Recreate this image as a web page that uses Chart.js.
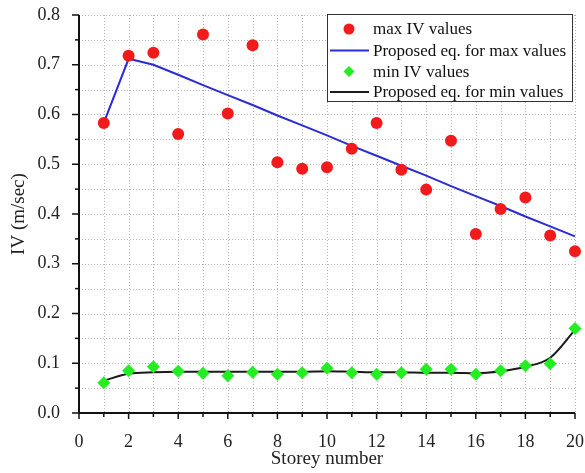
<!DOCTYPE html>
<html>
<head>
<meta charset="utf-8">
<script src="https://cdn.jsdelivr.net/npm/chart.js@4/dist/chart.umd.min.js"></script>
<style>
  html, body { margin: 0; padding: 0; background: #fff; }
  #wrap { width: 585px; height: 473px; position: relative; }
</style>
</head>
<body>
<div id="wrap"><canvas id="c" width="585" height="473"></canvas></div>
<script>
// Storey numbers along the x axis
const storeys = [1, 2, 3, 4, 5, 6, 7, 8, 9, 10, 11, 12, 13, 14, 15, 16, 17, 18, 19, 20];

// Measured maximum IV per storey (m/sec)
const maxIV = [0.583, 0.718, 0.724, 0.561, 0.761, 0.602, 0.739, 0.504, 0.491, 0.494,
               0.531, 0.583, 0.489, 0.449, 0.547, 0.360, 0.410, 0.433, 0.357, 0.325];

// Proposed equation for the maximum values
const maxFit = [0.583, 0.712, 0.700, 0.680, 0.659, 0.639, 0.619, 0.598, 0.578, 0.558,
                0.537, 0.517, 0.497, 0.477, 0.456, 0.436, 0.416, 0.395, 0.375, 0.355];

// Measured minimum IV per storey (m/sec)
const minIV = [0.061, 0.085, 0.093, 0.084, 0.080, 0.075, 0.082, 0.078, 0.081, 0.090,
               0.081, 0.078, 0.081, 0.088, 0.088, 0.078, 0.085, 0.095, 0.099, 0.170];

// Proposed equation for the minimum values
const minFit = [0.065, 0.079, 0.082, 0.083, 0.083, 0.083, 0.083, 0.083, 0.083, 0.084,
                0.083, 0.082, 0.082, 0.081, 0.081, 0.080, 0.084, 0.093, 0.111, 0.167];

const seriesNames = ['max IV values', 'Proposed eq. for max values', 'min IV values', 'Proposed eq. for min values'];
const xTicks = [0, 2, 4, 6, 8, 10, 12, 14, 16, 18, 20];
const yTicks = [0.0, 0.1, 0.2, 0.3, 0.4, 0.5, 0.6, 0.7, 0.8];

const SERIF = '"Liberation Serif", "Times New Roman", serif';
const pts = (ys) => storeys.map((x, i) => ({ x: x, y: ys[i] }));

// Fixed axis box sizes with no label overhang padding
const fixBox = (w, h) => (s) => {
  if (w !== null) s.width = w;
  if (h !== null) s.height = h;
  s.paddingLeft = 0; s.paddingRight = 0; s.paddingTop = 0; s.paddingBottom = 0;
};

// Dotted grid, solid left/bottom axes and tick marks
const axesPlugin = {
  id: 'axesPlugin',
  beforeDatasetsDraw(chart) {
    const { ctx, chartArea: a, scales: { x, y } } = chart;
    ctx.save();
    ctx.strokeStyle = '#b4b4b4';
    ctx.lineWidth = 1;
    ctx.setLineDash([1, 2]);
    for (let v = 1; v <= 20; v++) {
      const px = Math.round(x.getPixelForValue(v)) + 0.5;
      ctx.beginPath(); ctx.moveTo(px, a.top); ctx.lineTo(px, a.bottom); ctx.stroke();
    }
    for (let k = 1; k <= 16; k++) {
      const py = Math.round(y.getPixelForValue(k * 0.05)) + 0.5;
      ctx.beginPath(); ctx.moveTo(a.left, py); ctx.lineTo(a.right, py); ctx.stroke();
    }
    ctx.setLineDash([]);
    ctx.strokeStyle = '#111';
    ctx.lineWidth = 2;
    ctx.beginPath();
    ctx.moveTo(a.left, a.top); ctx.lineTo(a.left, a.bottom); ctx.lineTo(a.right, a.bottom);
    ctx.stroke();
    ctx.lineWidth = 1.5;
    for (let v = 0; v <= 20; v++) {
      const px = x.getPixelForValue(v);
      const len = v % 2 === 0 ? 6 : 4;
      ctx.beginPath(); ctx.moveTo(px, a.bottom); ctx.lineTo(px, a.bottom + len); ctx.stroke();
    }
    for (let k = 0; k <= 16; k++) {
      const py = y.getPixelForValue(k * 0.05);
      const len = k % 2 === 0 ? 7 : 4;
      ctx.beginPath(); ctx.moveTo(a.left, py); ctx.lineTo(a.left - len, py); ctx.stroke();
    }
    ctx.restore();
  },
  afterDraw(chart) {
    // Boxed legend in the upper right corner
    const { ctx } = chart;
    const bx = 327, by = 14, bw = 245, bh = 87;
    ctx.save();
    ctx.fillStyle = '#fff';
    ctx.fillRect(bx, by, bw, bh);
    ctx.strokeStyle = '#333';
    ctx.lineWidth = 1;
    ctx.strokeRect(bx + 0.5, by + 0.5, bw, bh);
    const rows = [29, 50.5, 71.5, 92];
    ctx.font = '17px ' + SERIF;
    ctx.textBaseline = 'middle';
    chart.data.datasets.forEach((ds, i) => {
      const cy = rows[i];
      if (ds.showLine === false) {
        ctx.fillStyle = ds.pointBackgroundColor;
        ctx.beginPath();
        if (ds.pointStyle === 'rectRot') {
          const r = 5.5;
          ctx.moveTo(349, cy - r); ctx.lineTo(349 + r, cy); ctx.lineTo(349, cy + r); ctx.lineTo(349 - r, cy);
          ctx.closePath();
        } else {
          ctx.arc(349, cy, 5.5, 0, Math.PI * 2);
        }
        ctx.fill();
      } else {
        ctx.strokeStyle = ds.borderColor;
        ctx.lineWidth = 2;
        ctx.beginPath(); ctx.moveTo(330, cy); ctx.lineTo(369, cy); ctx.stroke();
      }
      ctx.fillStyle = '#111';
      ctx.fillText(ds.label, 373, cy + 1);
    });
    ctx.restore();
  }
};

new Chart(document.getElementById('c'), {
  type: 'scatter',
  data: {
    datasets: [
      {
        label: seriesNames[0], data: pts(maxIV), showLine: false,
        pointStyle: 'circle', pointRadius: 6, pointBorderWidth: 0,
        pointBackgroundColor: '#f21a1a', borderColor: '#f21a1a'
      },
      {
        label: seriesNames[1], data: pts(maxFit), showLine: true,
        pointRadius: 0, borderColor: '#2b2bd8', borderWidth: 2, tension: 0
      },
      {
        label: seriesNames[2], data: pts(minIV), showLine: false,
        pointStyle: 'rectRot', pointRadius: 6.5, pointBorderWidth: 0,
        pointBackgroundColor: '#22ee22', borderColor: '#22ee22'
      },
      {
        label: seriesNames[3], data: pts(minFit), showLine: true,
        pointRadius: 0, borderColor: '#1a1a1a', borderWidth: 2,
        cubicInterpolationMode: 'monotone'
      }
    ]
  },
  options: {
    responsive: false,
    animation: false,
    clip: false,
    layout: { autoPadding: false, padding: { top: 15, right: 10, left: 0, bottom: 0 } },
    plugins: { legend: { display: false }, tooltip: { enabled: false } },
    scales: {
      x: {
        type: 'linear', min: 0, max: 20,
        afterFit: fixBox(null, 60),
        afterBuildTicks: (s) => { s.ticks = xTicks.map(v => ({ value: v })); },
        grid: { display: false }, border: { display: false },
        ticks: {
          autoSkip: false, maxRotation: 0, padding: 10, color: '#222',
          font: { family: SERIF, size: 18 },
          callback: (v) => String(v)
        },
        title: {
          display: true, text: 'Storey number', color: '#222',
          font: { family: SERIF, size: 19 }, padding: { top: 0, bottom: 3 }
        }
      },
      y: {
        type: 'linear', min: 0, max: 0.8,
        afterFit: fixBox(79, null),
        afterBuildTicks: (s) => { s.ticks = yTicks.map(v => ({ value: v })); },
        grid: { display: false }, border: { display: false },
        ticks: {
          autoSkip: false, padding: 11, color: '#222',
          font: { family: SERIF, size: 18 },
          callback: (v) => Number(v).toFixed(1)
        },
        title: {
          display: true, text: 'IV (m/sec)', color: '#222',
          font: { family: SERIF, size: 19 }, padding: { top: 8, bottom: 0 }
        }
      }
    }
  },
  plugins: [axesPlugin]
});
</script>
</body>
</html>
